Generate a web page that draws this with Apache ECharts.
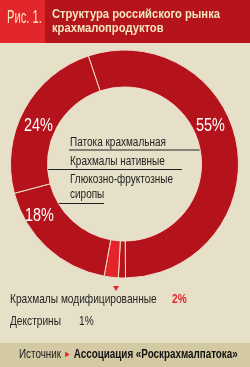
<!DOCTYPE html>
<html>
<head>
<meta charset="utf-8">
<style>
  html, body { margin: 0; padding: 0; background: #e7e0c9; }
  #chart { width: 250px; height: 367px; }
</style>
<script src="https://cdn.jsdelivr.net/npm/echarts@6/dist/echarts.min.js"></script>
</head>
<body>
<div id="chart"></div>
<script>
// структура рынка, %
var names = ['Патока крахмальная', 'Декстрины', 'Крахмалы модифицированные', 'Глюкозно-фруктозные сиропы', 'Крахмалы нативные'];
var values = [55, 1, 2, 18, 24];
var colors = ['#b5131c', '#b5131c', '#e3242b', '#b5131c', '#b5131c'];

var FONT = '"Liberation Sans", Arial, sans-serif';

var myChart = echarts.init(document.getElementById('chart'));

// текст, сжатый по горизонтали (узкий шрифт)
function txt(x, y, s, size, color, weight, sx) {
	return {
		type: 'text', x: x, y: y, z: 10, scaleX: sx || 0.8,
		style: { text: s, fontFamily: FONT, fontSize: size, fill: color, fontWeight: weight || 'normal', verticalAlign: 'top' }
	};
}

var option = {
	backgroundColor: '#e7e0c9',
	animation: false,
	series: [{
		type: 'pie',
		center: [124.5, 164],
		radius: [77, 114],
		startAngle: 108.5,
		clockwise: true,
		label: { show: false },
		labelLine: { show: false },
		itemStyle: { borderColor: '#f3dcc8', borderWidth: 1 },
		data: names.map(function (n, i) {
			return { name: n, value: values[i], itemStyle: { color: colors[i] } };
		})
	}],
	graphic: [
		// шапка
		{ type: 'rect', shape: { x: 0, y: 0, width: 45, height: 43 }, style: { fill: '#e2262c' } },
		{ type: 'rect', shape: { x: 45, y: 0, width: 205, height: 43 }, style: { fill: '#b5141d' } },
		txt(7, 9, 'Рис. 1.', 18, '#f5e6bd', 'normal', 0.62),
		txt(52, 7, 'Структура российского рынка', 13.5, '#f5e6bd', 'bold', 0.83),
		txt(52, 21, 'крахмалопродуктов', 13.5, '#f5e6bd', 'bold', 0.83),
		// проценты на кольце
		txt(196, 116, values[0] + '%', 19, '#ffffff', 'normal', 0.76),
		txt(24, 116, values[4] + '%', 19, '#ffffff', 'normal', 0.76),
		txt(25, 206, values[3] + '%', 19, '#ffffff', 'normal', 0.76),
		// подписи внутри кольца
		txt(70, 136, names[0], 12.5, '#222222'),
		{ type: 'line', shape: { x1: 69, y1: 150, x2: 205, y2: 150 }, style: { stroke: '#222', lineWidth: 1 } },
		{ type: 'circle', shape: { cx: 205, cy: 150.5, r: 1.8 }, style: { fill: '#b5131c', stroke: '#111', lineWidth: 1 } },
		txt(70, 155, names[4], 12.5, '#222222'),
		{ type: 'line', shape: { x1: 42, y1: 169.5, x2: 182, y2: 169.5 }, style: { stroke: '#222', lineWidth: 1 } },
		{ type: 'circle', shape: { cx: 42, cy: 170, r: 1.8 }, style: { fill: '#b5131c', stroke: '#111', lineWidth: 1 } },
		txt(70, 173, 'Глюкозно-фруктозные', 12.5, '#222222'),
		txt(70, 188, 'сиропы', 12.5, '#222222'),
		{ type: 'line', shape: { x1: 42, y1: 203.5, x2: 104, y2: 203.5 }, style: { stroke: '#222', lineWidth: 1 } },
		{ type: 'circle', shape: { cx: 42, cy: 203.5, r: 1.8 }, style: { fill: '#b5131c', stroke: '#111', lineWidth: 1 } },
		// низ
		{ type: 'polygon', shape: { points: [[113, 286], [119, 286], [116, 291]] }, style: { fill: '#e3242b' } },
		txt(10, 293, names[2], 13, '#222222', 'normal', 0.78),
		txt(172, 293, values[2] + '%', 13, '#e3242b', 'bold', 0.78),
		txt(10, 315, names[1], 13, '#222222', 'normal', 0.78),
		txt(79, 315, values[1] + '%', 13, '#222222', 'normal', 0.78),
		// источник
		{ type: 'rect', shape: { x: 0, y: 343, width: 250, height: 24 }, style: { fill: '#d3c9a3' } },
		{
			type: 'text', x: 19, y: 349, z: 10, scaleX: 0.82,
			style: {
				text: '{a|Источник }{r|►}{b| Ассоциация «Роскрахмалпатока»}',
				verticalAlign: 'top',
				rich: {
					a: { fontFamily: FONT, fontSize: 12, fill: '#222' },
					r: { fontFamily: FONT, fontSize: 9, fill: '#e3242b' },
					b: { fontFamily: FONT, fontSize: 12, fill: '#111', fontWeight: 'bold' }
				}
			}
		}
	]
};
myChart.setOption(option);
</script>
</body>
</html>
